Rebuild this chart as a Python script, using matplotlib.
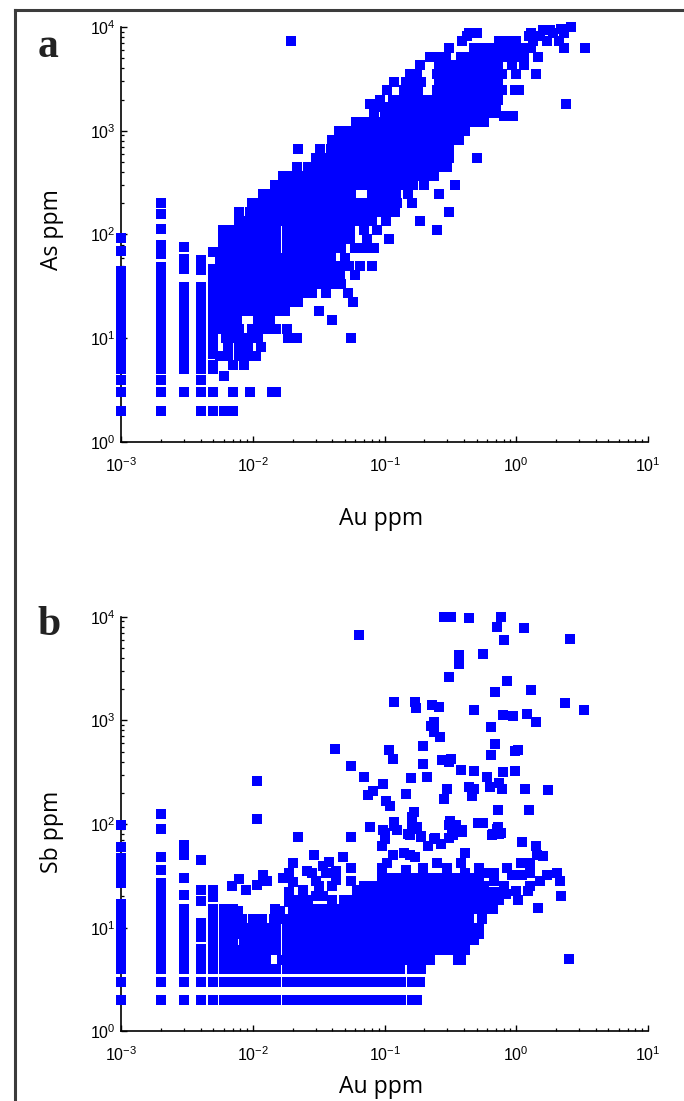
#!/usr/bin/env python3

import matplotlib
matplotlib.use("Agg")
import matplotlib.pyplot as plt
from matplotlib.lines import Line2D
from matplotlib.ticker import LogLocator, FixedFormatter, NullFormatter

W, H = 684.0, 1101.0

plt.rcParams['mathtext.fontset'] = 'custom'
plt.rcParams['mathtext.rm'] = 'Liberation Sans'
plt.rcParams['font.family'] = ['Liberation Sans', 'DejaVu Sans']

# tick labels
x_tick_labels = ['$10^{-3}$', '$10^{-2}$', '$10^{-1}$', '$10^{0}$', '$10^{1}$']
y_tick_labels = ['$10^{0}$', '$10^{1}$', '$10^{2}$', '$10^{3}$', '$10^{4}$']

# panel a: Au detection-limit columns, As values read per column
as_au001 = [92, 69, 44, 38, 33, 29, 26, 23, 20, 18, 16, 14, 12, 10, 9, 8, 7, 6, 5, 4, 3, 2]
as_au002 = [200, 158, 113, 80, 65, 49, 39, 31, 26, 23, 20, 18, 16, 14, 12, 10, 9, 8, 7, 6, 5, 4, 3, 2]
as_au003 = [76, 58, 47, 31, 26, 22, 19, 16, 14, 12, 10, 9, 8, 7, 6, 5, 3]
as_au004 = [57, 45, 31, 26, 22, 19, 16, 14, 12, 10, 9, 8, 7, 6, 5, 4, 3, 2]
as_au005 = [68, 46, 39, 33, 28, 24, 20, 17, 15, 13, 11, 10, 9, 8, 7, 5, 3, 2]

# panel a: As level and the Au values seen along that level
as_levels = [10000, 9600, 9300, 8800, 8200, 7300, 6300, 5100, 4300, 3500, 2950, 2460, 1970, 1800, 1710,
             1480, 1380, 1210, 990, 810, 665, 545, 445, 365, 300, 245, 200, 165, 135,
             110, 90, 74, 60, 50, 41, 33, 27, 22.3, 18.3, 15, 12.3, 10, 8.2, 6.8, 5.5, 4.3, 3, 2]
au_levels = [
    [2.6],
    [2.2],
    [1.6, 1.8],
    [.5, .44, 1.3, 1.9, 2.3],
    [.42, 1.25, 1.5],
    [.385, .74, .85, 1.0, 1.35, 1.7, 2.1],
    [.31, .48, .55, .62, .72, .85, 1.0, 1.15, 1.3, 2.3, 3.3],
    [.22, .25, .29, .38, .44, .52, .61, .72, .85, 1.0, 1.15, 1.45],
    [.185, .26, .3, .35, .41, .47, .55, .63, .72, .93, 1.15],
    [.155, .175, .25, .28, .32, .38, .44, .5, .58, .68, .78, 1.0, 1.4],
    [.118, .145, .165, .19, .26, .3, .35, .41, .47, .55, .63, .72],
    [.105, .14, .165, .18, .25, .29, .34, .39, .46, .53, .62, .7, .78, .98, 1.05],
    [.092, .115, .135, .16, .19, .22, .26, .3, .35, .41, .48, .56, .66, .72],
    [.077, 2.4],
    [.09, .108, .127, .15, .175, .205, .24, .28, .33, .38, .45, .53, .62, .7],
    [.083, .1, .12, .14, .165, .195, .23, .27, .315, .37, .43, .5, .59, .69],
    [.8, .95],
    [.061, .072, .085, .1, .12, .14, .165, .195, .23, .27, .315, .37, .43, .5, .57],
    [.045, .054, .063, .074, .087, .102, .12, .14, .165, .195, .23, .27, .315, .37, .41],
    [.04, .046, .054, .063, .074, .087, .102, .12, .14, .165, .195, .23, .27, .315, .37],
    [.022, .0325, .039, .046, .054, .063, .074, .087, .102, .12, .14, .165, .195, .23, .27, .31],
    [.03, .035, .041, .048, .056, .066, .078, .09, .105, .123, .145, .17, .2, .235, .27, .31, .5],
    [.0215, .026, .03, .035, .041, .048, .056, .066, .078, .09, .105, .123, .145, .17, .2, .235, .27, .3],
    [.0168, .0195, .023, .027, .032, .037, .043, .05, .059, .069, .081, .095, .11, .13, .15, .175, .2, .235],
    [.0147, .017, .02, .024, .028, .033, .039, .046, .054, .063, .074, .087, .102, .12, .14, .165, .2, .345],
    [.0119, .014, .0165, .019, .022, .026, .03, .035, .041, .048, .056, .08, .09, .105, .123, .15, .26],
    [.0098, .0115, .0135, .016, .0185, .022, .026, .03, .035, .041, .048, .056, .066, .078, .09, .105, .125, .16],
    [.0078, .0095, .011, .013, .015, .0175, .0205, .024, .028, .033, .039, .046, .054, .063, .074, .087, .102, .12, .31],
    [.0078, .0092, .0108, .0127, .015, .0175, .0205, .024, .028, .033, .039, .046, .054, .063, .074, .08, .102, .185],
    [.0059, .0069, .0081, .0095, .011, .013, .015, .018, .021, .025, .029, .034, .04, .047, .055, .07, .087, .25],
    [.0059, .0069, .0081, .0095, .011, .013, .015, .018, .021, .025, .029, .034, .04, .047, .055, .074, .107],
    [.0059, .0069, .0081, .0095, .011, .013, .015, .018, .021, .025, .029, .034, .04, .047, .06, .07, .083],
    [.0056, .0066, .0078, .0092, .0108, .0127, .015, .0175, .0205, .024, .028, .033, .039, .05],
    [.0056, .0066, .0078, .0092, .0108, .0127, .015, .0175, .0205, .024, .028, .033, .039, .046, .054, .065, .08],
    [.0056, .0066, .0078, .0092, .0108, .0127, .015, .0175, .0205, .024, .028, .033, .039, .046, .06],
    [.0056, .0066, .0078, .0092, .0108, .0127, .015, .0175, .0205, .024, .028, .033, .039, .047],
    [.0056, .0066, .0078, .0092, .0108, .0127, .015, .0175, .0205, .024, .028, .036, .053],
    [.0056, .0066, .0078, .0092, .0108, .0127, .015, .0175, .0205, .022, .058],
    [.0056, .0066, .0078, .0092, .0108, .0127, .015, .0175, .032],
    [.0056, .0066, .0075, .011, .0125, .0135, .04],
    [.0056, .0066, .0078, .0098, .0115, .0135, .015, .018],
    [.0062, .0072, .0085, .0098, .011, .0185, .0215, .056],
    [.0065, .0078, .0092, .0115],
    [.0056, .0065, .0078, .0092, .0105],
    [.005, .007, .0085],
    [.006],
    [.007, .0095, .014, .015],
    [.006, .0065, .007],
]

# panel b: Sb values per Au detection-limit column
sb_au001 = [97, 60, 47, 38, 33, 27, 17, 15, 13, 12, 11, 10, 9, 8, 7, 6, 5, 4, 3, 2]
sb_au002 = [125, 90, 48, 36, 27, 23, 20, 18, 16, 14, 12, 10, 9, 8, 7, 6, 5, 4, 3, 2]
sb_au003 = [63, 50, 30, 20.5, 15, 13, 11, 9, 8, 7, 6, 5, 4, 3, 2]
sb_au004 = [45, 23, 18, 11, 9.6, 8.2, 6.2, 5, 4, 3, 2]
sb_au005 = [23, 19.6, 15, 13, 11.5, 10, 9, 8, 7, 6, 5, 4, 3, 2]

# panel b: separately readable points
au_high = [.28, .32, .435, .76, .71, 1.14, .064, .8, 2.57, .555, .37, .37, .31, .85, 1.29, .69, 2.34, .118, .17, .173,
           .23, .26, .48, 3.26, .79, .95, 1.2, 1.4, .235, .225, .235, .265, .645, .69, .195, .042, .107, .115, .64, .97,
           1.03, .275, .31, .32, .195, .38, .056, .48, .79, .97, .07, .158, .21, .6, .74, .098, .0107, .44, .48, .295,
           .63, .78, 1.17, 1.74, .081, .075, .145, .102, .28, .46, .109, .72, 1.25, .0107, .168, .16, .316, .118, .16, .51,
           .56, .35, .077, .72, .097, .125, .175, .325, .39, .76, .65, .022, .056, .1, .155, .19, .24, .33, 1.1, 1.4,
           .029, .02, .038, .048, .0078, .0069, .0088, .012, .0127, .0107, .0188, .017, .02, .0257, .028, .03, .0315, .024, .034, .043,
           .036, .04, .043, .056, .056, .062, 1.43, 1.6, .118, .125, .16, .175, .15, .19, .235, .215, .27, .31, .385, .31,
           .35, .55, .71, .66, .74, .1, .1, .095, .41, .115, .14, .155, .17, .105, .095, .145, .195, .25, .295, .38,
           .41, .52, .58, .68, .52, .68, .8, .85, 1.08, 1.28, 1.28, .92, 1.1, 1.72, 2.05, 2.15, 1.52, 1.28, 1.23, .99,
           1.03, .83, .74, 1.45, 2.2, 2.5, .0188, .0188, .03, .034]
sb_high = [10000, 10000, 9800, 10000, 8000, 7800, 6650, 5900, 6100, 4360, 4300, 3470, 2620, 2410, 1980, 1890, 1480, 1510, 1510, 1320,
           1420, 1350, 1260, 1260, 1120, 1110, 1160, 960, 970, 880, 770, 690, 870, 590, 560, 530, 515, 425, 465, 510,
           515, 415, 400, 425, 380, 335, 360, 325, 320, 325, 285, 275, 282, 285, 250, 245, 260, 230, 218, 218,
           230, 218, 220, 215, 210, 190, 195, 168, 175, 188, 150, 136, 136, 112, 131, 118, 108, 104, 100, 103,
           103, 97, 93, 93, 87, 88, 93, 90, 87, 82, 78, 75, 75, 77, 78, 76, 74, 78, 67, 62,
           50, 42, 43, 48, 29.5, 25, 23, 32, 28, 26, 33.5, 30, 27.5, 35, 33.5, 28, 25.5, 23, 39, 35,
           33.5, 25, 29, 38, 28, 23, 50, 49, 96, 87, 96, 90, 80, 75, 72, 62, 64, 74, 83, 97,
           97, 103, 90, 80, 80, 82, 72, 62, 52, 50, 52, 50, 48, 42, 38, 36, 38, 42, 38, 42,
           34, 38, 34, 34, 30, 28, 25, 38, 42, 42, 34, 32, 32, 32, 34, 28, 28, 25, 22.5, 22.5,
           18.5, 21, 18.5, 15.5, 20, 5, 22, 17.5, 20, 20]

# panel b: Sb level and the Au values seen along that level
sb_levels = [30, 25.5, 22, 18.5, 15, 14.5, 12, 10, 8.7, 7.6, 6.1, 4.9, 3.95, 3, 2]
au_sb_levels = [
    [.095, .11, .125, .145, .17, .2, .235, .275, .32, .38, .44],
    [.07, .08, .095, .11, .13, .155, .18, .21, .25, .3, .35, .41, .48, .57],
    [.062, .072, .085, .1, .118, .14, .165, .195, .23, .27, .32, .38, .44, .52, .61, .72],
    [.0188, .022, .026, .04, .049, .058, .068, .08, .094, .11, .13, .155, .18, .21, .25, .29, .34, .4, .47, .55, .65],
    [.006, .0065, .007, .0147, .02, .024, .028, .033, .039, .046, .054, .063, .074, .087, .102, .12, .14, .165, .195, .23, .27, .32, .38, .44, .52, .62, .66],
    [.006, .007, .0077, .016],
    [.006, .007, .0083, .01, .0117, .0145, .017, .02, .024, .028, .033, .039, .046, .054, .063, .074, .087, .102, .12, .14, .165, .195, .23, .27, .32, .38, .44, .55],
    [.006, .007, .008, .0095, .011, .013, .015, .018, .021, .025, .029, .034, .04, .047, .055, .065, .076, .089, .105, .123, .145, .17, .2, .235, .275, .32, .38, .44, .52],
    [.006, .007, .008, .0095, .011, .013, .015, .018, .021, .025, .029, .034, .04, .047, .055, .065, .076, .089, .105, .123, .145, .17, .2, .235, .275, .32, .38, .44, .52],
    [.006, .007, .0085, .0095, .011, .013, .015, .018, .021, .025, .029, .034, .04, .047, .055, .065, .076, .089, .105, .123, .145, .17, .2, .235, .275, .32, .38, .44, .48],
    [.006, .0072, .0085, .0095, .011, .013, .015, .018, .021, .025, .029, .034, .04, .047, .055, .065, .076, .089, .105, .123, .145, .17, .2, .235, .275, .32, .37, .41],
    [.006, .007, .008, .0095, .011, .0125, .0165, .018, .021, .025, .029, .034, .04, .047, .055, .065, .076, .089, .105, .123, .14, .16, .185, .22, .36, .38],
    [.006, .007, .008, .0095, .011, .013, .015, .018, .021, .025, .029, .034, .04, .047, .055, .065, .076, .089, .105, .123, .13, .16, .19],
    [.006, .007, .008, .0095, .011, .013, .015, .018, .021, .025, .029, .034, .04, .047, .055, .065, .076, .089, .105, .123, .134, .16, .185],
    [.006, .007, .008, .0095, .011, .013, .015, .018, .021, .025, .029, .034, .04, .047, .055, .065, .076, .089, .105, .123, .134, .16, .175],
]


def flatten(levels, rows):
    xs = []
    ys = []
    for level, row in zip(levels, rows):
        for val in row:
            xs.append(val)
            ys.append(level)
    return xs, ys


def setup_axes(top_px, bottom_px):
    ax = fig.add_axes([121.3 / W, 1 - bottom_px / H, (648 - 121.3) / W, (bottom_px - top_px) / H])
    ax.set_xscale('log')
    ax.set_yscale('log')
    ax.set_xlim(1e-3, 10)
    ax.set_ylim(1, 1e4)
    ax.spines['top'].set_visible(False)
    ax.spines['right'].set_visible(False)
    ax.spines['left'].set_linewidth(1.2)
    ax.spines['bottom'].set_linewidth(1.2)
    for axis in (ax.xaxis, ax.yaxis):
        axis.set_major_locator(LogLocator(base=10, numticks=10))
        axis.set_minor_locator(LogLocator(base=10, subs=range(2, 10), numticks=10))
        axis.set_minor_formatter(NullFormatter())
    ax.set_xticks([1e-3, 1e-2, 1e-1, 1, 10])
    ax.set_yticks([1, 10, 100, 1000, 10000])
    ax.xaxis.set_major_formatter(FixedFormatter(x_tick_labels))
    ax.yaxis.set_major_formatter(FixedFormatter(y_tick_labels))
    ax.tick_params(which='major', direction='in', length=4.5, width=1.0, labelsize=11.5, color='black')
    ax.tick_params(which='minor', direction='in', length=2.5, width=0.9)
    ax.tick_params(axis='x', which='major', pad=10)
    ax.tick_params(axis='y', which='major', pad=4)
    return ax


def squares(ax, xs, ys):
    ax.scatter(xs, ys, marker='s', s=54, c='#0000ff', linewidths=0, clip_on=False, zorder=3)


fig = plt.figure(figsize=(W / 100, H / 100), dpi=100)

# panel a
ax_a = setup_axes(27, 442)
for au, vals in ((.001, as_au001), (.002, as_au002), (.003, as_au003), (.004, as_au004), (.005, as_au005)):
    squares(ax_a, [au] * len(vals), vals)
xs_a, ys_a = flatten(as_levels, au_levels)
squares(ax_a, xs_a, ys_a)
squares(ax_a, [.0195], [7300])

# panel b
ax_b = setup_axes(616.7, 1031.3)
for au, vals in ((.001, sb_au001), (.002, sb_au002), (.003, sb_au003), (.004, sb_au004), (.005, sb_au005)):
    squares(ax_b, [au] * len(vals), vals)
xs_b, ys_b = flatten(sb_levels, au_sb_levels)
squares(ax_b, xs_b, ys_b)
squares(ax_b, au_high, sb_high)

# frame round the figure
fig.add_artist(Line2D([14.5 / W, 14.5 / W], [0, 1 - 9.5 / H], color='#3c3c3c', lw=2.2))
fig.add_artist(Line2D([14.5 / W, 1], [1 - 9.5 / H, 1 - 9.5 / H], color='#3c3c3c', lw=2.2))

label_font = ['Open Sans', 'DejaVu Sans']
fig.text(381 / W, 1 - 519 / H, 'Au ppm', fontsize=16.6, family=label_font, ha='center', va='center')
fig.text(381 / W, 1 - 1087 / H, 'Au ppm', fontsize=16.6, family=label_font, ha='center', va='center')
fig.text(52 / W, 1 - 230 / H, 'As ppm', fontsize=16.6, family=label_font, rotation=90, ha='center', va='center')
fig.text(52 / W, 1 - 832 / H, 'Sb ppm', fontsize=16.6, family=label_font, rotation=90, ha='center', va='center')

fig.text(48 / W, 1 - 47 / H, 'a', fontsize=30, family='Liberation Serif', weight='bold', color='#222222', ha='center', va='center')
fig.text(49 / W, 1 - 625 / H, 'b', fontsize=30, family='Liberation Serif', weight='bold', color='#222222', ha='center', va='center')

fig.savefig('out.png', dpi=100)
